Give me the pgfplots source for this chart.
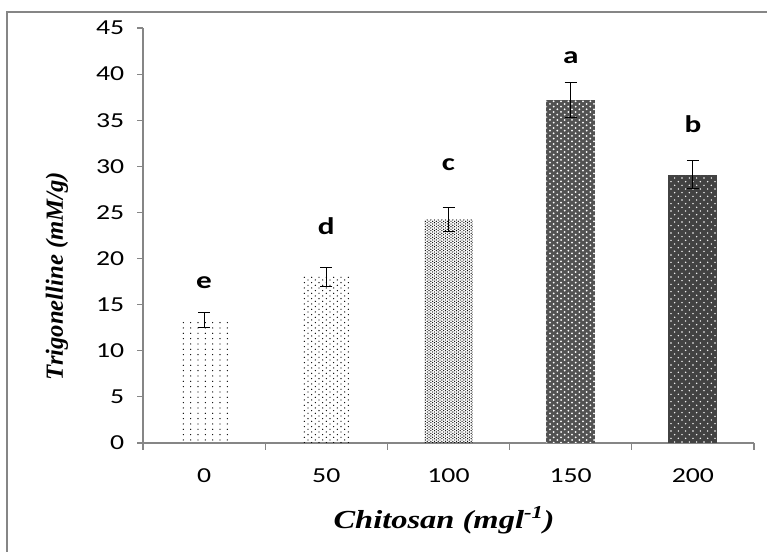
\documentclass[border=0pt]{standalone}
\usepackage{fontspec}
\setmainfont{Carlito}
\newfontfamily\tickfont[FakeStretch=1.3]{Carlito}
\newfontfamily\titlefont[FakeStretch=1.25]{Liberation Serif}
\newfontfamily\ytitlefont{Liberation Serif}
\usepackage{pgfplots}
\pgfplotsset{compat=1.18}
\usetikzlibrary{patterns.meta}

\tikzdeclarepattern{name=patA, type=uncolored,
  bottom left={(-0.6pt,-0.6pt)}, top right={(0.6pt,0.6pt)},
  tile size={(5.5pt,4pt)},
  code={\fill (0pt,0pt) circle (0.5pt);}}
\tikzdeclarepattern{name=patB, type=uncolored,
  bottom left={(-0.6pt,-0.6pt)}, top right={(3.4pt,2.6pt)},
  tile size={(5.5pt,4pt)},
  code={\fill (0pt,0pt) circle (0.5pt); \fill (2.75pt,2pt) circle (0.5pt);}}
\tikzdeclarepattern{name=patC, type=uncolored,
  bottom left={(-0.6pt,-0.6pt)}, top right={(2pt,1.6pt)},
  tile size={(2.75pt,2pt)},
  code={\fill (0pt,0pt) circle (0.5pt); \fill (1.375pt,1pt) circle (0.5pt);}}
\tikzdeclarepattern{name=patD, type=uncolored,
  bottom left={(-0.9pt,-0.9pt)}, top right={(3.7pt,2.9pt)},
  tile size={(5.5pt,4pt)},
  code={\fill (0pt,0pt) circle (0.75pt); \fill (2.75pt,2pt) circle (0.75pt);}}
\tikzdeclarepattern{name=patE, type=uncolored,
  bottom left={(-0.8pt,-0.8pt)}, top right={(3.6pt,3.6pt)},
  tile size={(5.5pt,5.5pt)},
  code={\fill (0pt,0pt) circle (0.6pt); \fill (2.75pt,2.75pt) circle (0.6pt);}}

\definecolor{axgray}{RGB}{134,134,134}

\begin{document}
\begin{tikzpicture}[x=0.75pt,y=0.75pt]
\useasboundingbox (0,0) rectangle (767,552);
\draw[axgray, line width=1.1pt] (7,-20) rectangle (790,540);
\begin{axis}[
  at={(107.25pt,81.75pt)}, anchor=south west,
  scale only axis, width=458.25pt, height=311.25pt,
  xmin=-0.5, xmax=4.5, ymin=0, ymax=45,
  ytick={0,5,...,45},
  xtick={0,1,2,3,4}, xticklabels={0,50,100,150,200},
  minor xtick={-0.5,0.5,1.5,2.5,3.5,4.5},
  axis x line*=bottom, axis y line*=left,
  axis line style={draw=axgray, line width=0.9pt, -},
  tick align=outside,
  major tick length=4.5pt, minor tick length=5pt,
  tick style={draw=axgray, line width=0.9pt},
  major x tick style={draw=none},
  /pgf/number format/assume math mode=true,
  ticklabel style={font=\tickfont\fontsize{16}{18}\selectfont, text=black},
  yticklabel style={anchor=east, xshift=-6pt},
  xticklabel style={anchor=north, yshift=-11pt},
  clip=false,
]
\addplot[ybar, bar width=0.4, bar shift=0pt, draw=none, pattern=patA, pattern color=black,
  error bars/.cd, y dir=both, y explicit,
  error bar style={black, line width=0.8pt},
  error mark options={rotate=90, mark size=4.5pt, black, line width=0.8pt}]
  coordinates {(0,13.3) +- (0,0.8)};
\addplot[ybar, bar width=0.4, bar shift=0pt, draw=none, pattern=patB, pattern color=black,
  error bars/.cd, y dir=both, y explicit,
  error bar style={black, line width=0.8pt},
  error mark options={rotate=90, mark size=4.5pt, black, line width=0.8pt}]
  coordinates {(1,18.0) +- (0,1.0)};
\addplot[ybar, bar width=0.4, bar shift=0pt, draw=none, pattern=patC, pattern color=black,
  error bars/.cd, y dir=both, y explicit,
  error bar style={black, line width=0.8pt},
  error mark options={rotate=90, mark size=4.5pt, black, line width=0.8pt}]
  coordinates {(2,24.2) +- (0,1.3)};
\addplot[ybar, bar width=0.4, bar shift=0pt, draw=none, fill=black!68,
  postaction={pattern=patD, pattern color=white},
  error bars/.cd, y dir=both, y explicit,
  error bar style={black, line width=0.8pt},
  error mark options={rotate=90, mark size=4.5pt, black, line width=0.8pt}]
  coordinates {(3,37.2) +- (0,1.9)};
\addplot[ybar, bar width=0.4, bar shift=0pt, draw=none, fill=black!74,
  postaction={pattern=patE, pattern color=white},
  error bars/.cd, y dir=both, y explicit,
  error bar style={black, line width=0.8pt},
  error mark options={rotate=90, mark size=4.5pt, black, line width=0.8pt}]
  coordinates {(4,29.1) +- (0,1.5)};
\addplot[draw=none, mark=none, nodes near coords, point meta=explicit symbolic,
  every node near coord/.style={anchor=center, font=\tickfont\bfseries\fontsize{18}{20}\selectfont, text=black}]
  coordinates {(0,17.4)[e] (1,23.5)[d] (2,30.2)[c] (3,41.8)[a] (4,34.6)[b]};
\end{axis}
\node[font=\titlefont\bfseries\itshape\fontsize{19.5}{22}\selectfont] at (444,32) {Chitosan (mgl\textsuperscript{-1})};
\node[rotate=90, font=\ytitlefont\bfseries\itshape\fontsize{18.5}{22}\selectfont] at (57,276) {Trigonelline (mM/g)};
\end{tikzpicture}
\end{document}
